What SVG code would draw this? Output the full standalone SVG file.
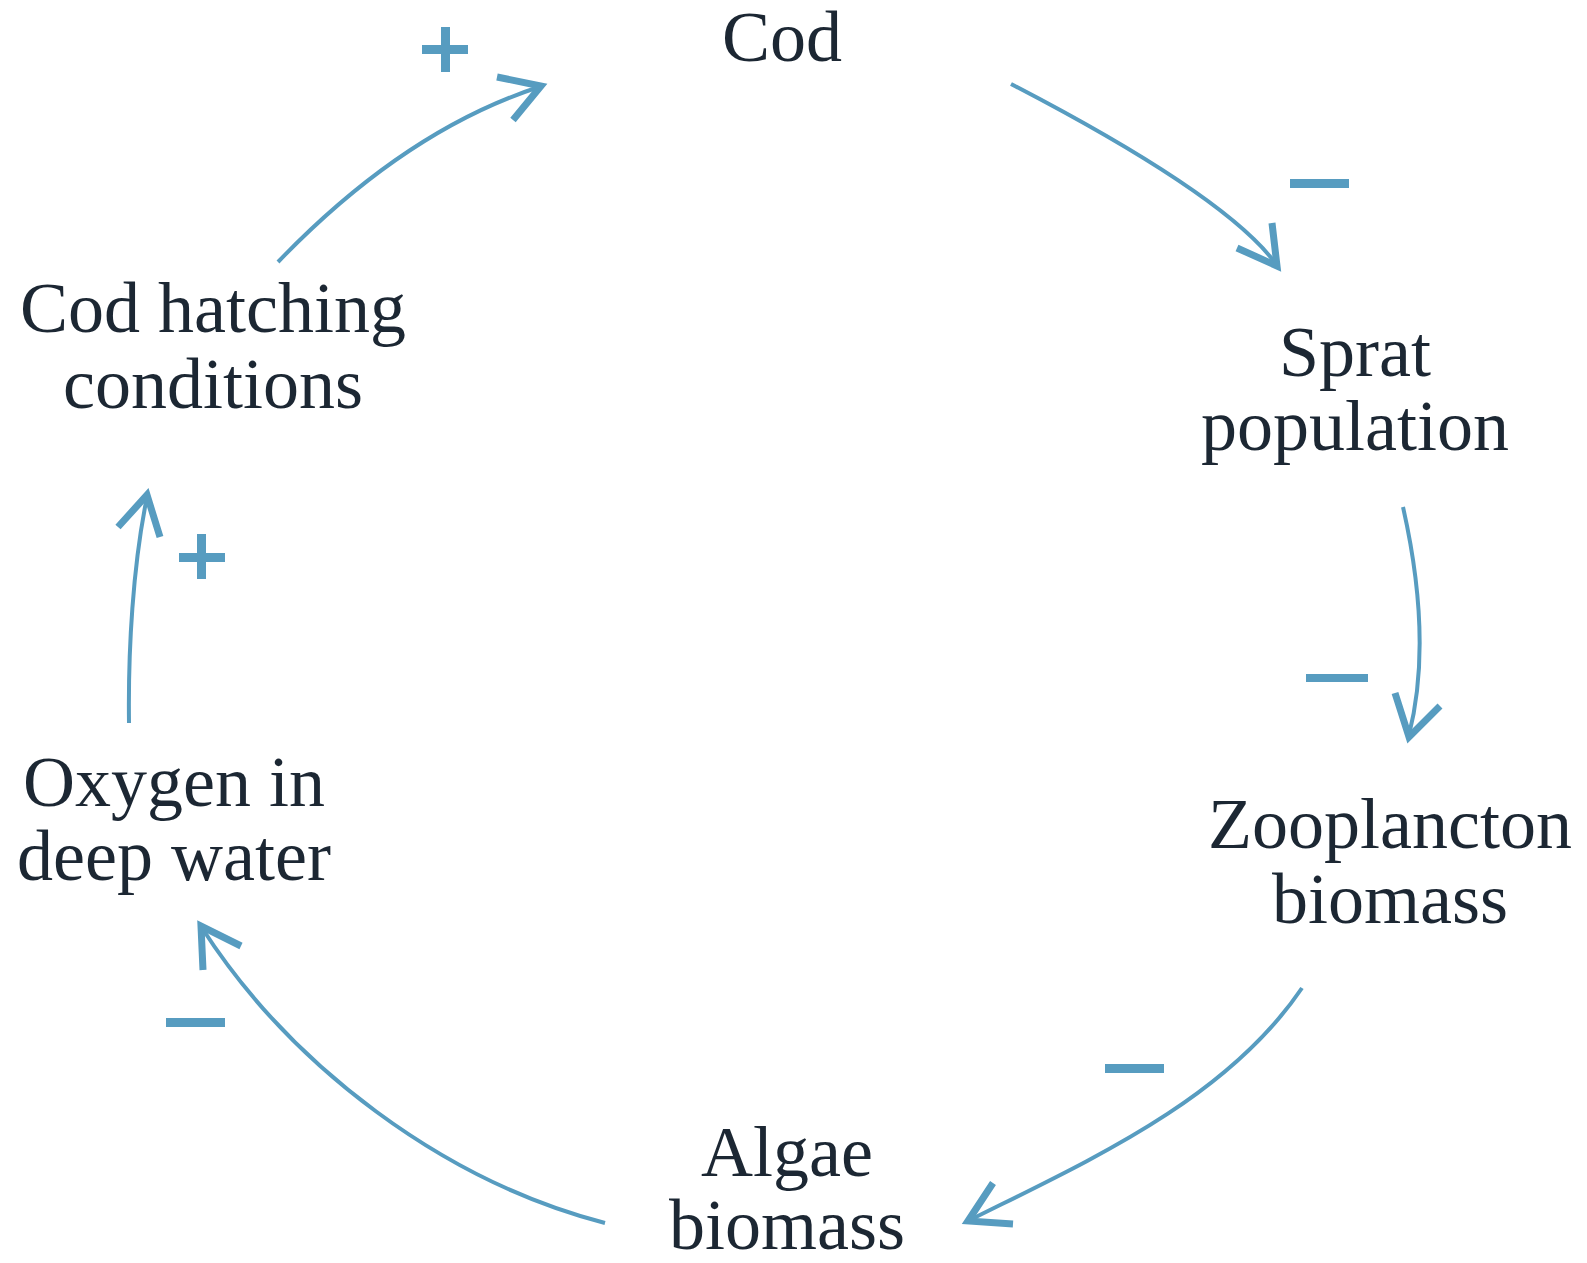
<svg xmlns="http://www.w3.org/2000/svg" width="1587" height="1263" viewBox="0 0 1587 1263">
<style>
.lbl{font-family:"Liberation Serif","Times New Roman",serif;font-size:72px;fill:#1c2733;text-anchor:middle}
.shaft{fill:none;stroke:#579cc0;stroke-width:4}
.head{fill:none;stroke:#579cc0;stroke-width:7;stroke-linejoin:miter;stroke-linecap:butt}
.sign{fill:#579cc0}
</style>
<rect width="1587" height="1263" fill="#ffffff"/>
<g id="node-cod"><text class="lbl" x="782" y="61">Cod</text></g>
<g id="node-sprat"><text class="lbl" x="1355" y="376">Sprat</text><text class="lbl" x="1355" y="450">population</text></g>
<g id="node-zooplancton"><text class="lbl" x="1390" y="848">Zooplancton</text><text class="lbl" x="1390" y="923">biomass</text></g>
<g id="node-algae"><text class="lbl" x="787" y="1176">Algae</text><text class="lbl" x="787" y="1249">biomass</text></g>
<g id="node-oxygen"><text class="lbl" x="174" y="806">Oxygen in</text><text class="lbl" x="174" y="880">deep water</text></g>
<g id="node-hatching"><text class="lbl" x="213" y="332">Cod hatching</text><text class="lbl" x="213" y="408">conditions</text></g>
<g id="connectors">
<path class="shaft" d="M278,262 Q404,131 539,87"/>
<path class="head" d="M497,77 L541,86 L513,120"/>
<path class="shaft" d="M1011,84 Q1225,195 1276,264"/>
<path class="head" d="M1272,223 L1277,266 L1237,248"/>
<path class="shaft" d="M1403,507 Q1433,640 1409,735"/>
<path class="head" d="M1395,693 L1409,737 L1440,706"/>
<path class="shaft" d="M1302,988 C1226,1100 1090,1160 970,1220"/>
<path class="head" d="M993,1183 L968,1221 L1013,1224"/>
<path class="shaft" d="M605,1223 C443,1181 291,1066 202,928"/>
<path class="head" d="M203,970 L201,926 L241,946"/>
<path class="shaft" d="M129,723 C128,650 133,565 147,497"/>
<path class="head" d="M118,527 L147,495 L160,537"/>
</g>
<g id="signs">
<rect class="sign" x="422" y="45" width="46" height="9"/>
<rect class="sign" x="441" y="27" width="9" height="45"/>
<rect class="sign" x="1290" y="179" width="59" height="9"/>
<rect class="sign" x="1306" y="674" width="62" height="8"/>
<rect class="sign" x="1105" y="1064" width="59" height="9"/>
<rect class="sign" x="166" y="1018" width="59" height="9"/>
<rect class="sign" x="179" y="553" width="46" height="9"/>
<rect class="sign" x="197" y="534" width="9" height="45"/>
</g>
</svg>
